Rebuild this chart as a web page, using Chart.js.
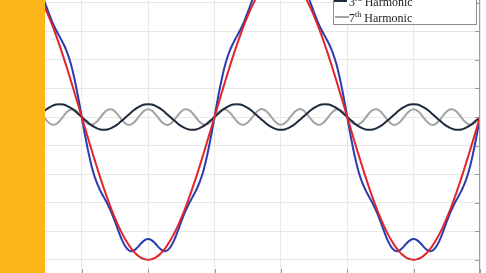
<!DOCTYPE html>
<html>
<head>
<meta charset="utf-8">
<script src="https://cdn.jsdelivr.net/npm/chart.js@4.4.1/dist/chart.umd.min.js"></script>
<style>
  html, body { margin: 0; padding: 0; background: #fff; overflow: hidden; }
  #wrap { position: relative; width: 486px; height: 273px; overflow: hidden; background: #fff; }
  #plot { position: absolute; left: -51px; top: -40px; }
  #band { position: absolute; left: 0; top: 0; width: 45px; height: 273px; background: #FDB618; }
  #legend { position: absolute; left: 333px; top: -12px; width: 144px; height: 37px; box-sizing: border-box;
            border: 1px solid #8c8c8c; background: #fff; }
  .swatch { position: absolute; }
  .lbl { position: absolute; font: 12px 'Liberation Serif', 'Times New Roman', serif; line-height: 12px; color: #222; white-space: nowrap; }
  .lbl sup { font-size: 8px; vertical-align: 0; position: relative; top: -5px; }
</style>
</head>
<body>
<div id="wrap">
  <canvas id="plot" width="537" height="314"></canvas>
  <div id="band"></div>
  <div id="legend"></div>
  <div class="swatch" style="left:334px; top:0px; width:13px; height:2px; background:#1d2b3d;"></div>
  <div class="lbl" style="left:349px; top:-4px;">3<sup>rd</sup> Harmonic</div>
  <div class="swatch" style="left:335px; top:16px; width:14px; height:2px; background:#a3a3a3;"></div>
  <div class="lbl" style="left:349px; top:12px;">7<sup>th</sup> Harmonic</div>
</div>
<script>
// angle in degrees, sampled every 5 deg over two cycles
const angles = [0,5,10,15,20,25,30,35,40,45,50,55,60,65,70,75,80,85,90,95,100,105,110,115,120,125,130,135,140,145,150,155,160,165,170,175,180,185,190,195,200,205,210,215,220,225,230,235,240,245,250,255,260,265,270,275,280,285,290,295,300,305,310,315,320,325,330,335,340,345,350,355,360,365,370,375,380,385,390,395,400,405,410,415,420,425,430,435,440,445,450,455,460,465,470,475,480,485,490,495,500,505,510,515,520,525,530,535,540,545,550,555,560,565,570,575,580,585,590,595,600,605,610,615,620,625,630,635,640,645,650,655,660,665,670,675,680,685,690,695,700,705,710,715,720];

const fundamental = [0,.087,.174,.259,.342,.423,.5,.574,.643,.707,.766,.819,.866,.906,.94,.966,.985,.996,1,.996,.985,.966,.94,.906,.866,.819,.766,.707,.643,.574,.5,.423,.342,.259,.174,.087,
  0,-.087,-.174,-.259,-.342,-.423,-.5,-.574,-.643,-.707,-.766,-.819,-.866,-.906,-.94,-.966,-.985,-.996,-1,-.996,-.985,-.966,-.94,-.906,-.866,-.819,-.766,-.707,-.643,-.574,-.5,-.423,-.342,-.259,-.174,-.087,
  0,.087,.174,.259,.342,.423,.5,.574,.643,.707,.766,.819,.866,.906,.94,.966,.985,.996,1,.996,.985,.966,.94,.906,.866,.819,.766,.707,.643,.574,.5,.423,.342,.259,.174,.087,
  0,-.087,-.174,-.259,-.342,-.423,-.5,-.574,-.643,-.707,-.766,-.819,-.866,-.906,-.94,-.966,-.985,-.996,-1,-.996,-.985,-.966,-.94,-.906,-.866,-.819,-.766,-.707,-.643,-.574,-.5,-.423,-.342,-.259,-.174,-.087,0];

const third = [0,.023,.045,.064,.078,.087,.09,.087,.078,.064,.045,.023,0,-.023,-.045,-.064,-.078,-.087,-.09,-.087,-.078,-.064,-.045,-.023,
  0,.023,.045,.064,.078,.087,.09,.087,.078,.064,.045,.023,0,-.023,-.045,-.064,-.078,-.087,-.09,-.087,-.078,-.064,-.045,-.023,
  0,.023,.045,.064,.078,.087,.09,.087,.078,.064,.045,.023,0,-.023,-.045,-.064,-.078,-.087,-.09,-.087,-.078,-.064,-.045,-.023,
  0,.023,.045,.064,.078,.087,.09,.087,.078,.064,.045,.023,0,-.023,-.045,-.064,-.078,-.087,-.09,-.087,-.078,-.064,-.045,-.023,
  0,.023,.045,.064,.078,.087,.09,.087,.078,.064,.045,.023,0,-.023,-.045,-.064,-.078,-.087,-.09,-.087,-.078,-.064,-.045,-.023,
  0,.023,.045,.064,.078,.087,.09,.087,.078,.064,.045,.023,0,-.023,-.045,-.064,-.078,-.087,-.09,-.087,-.078,-.064,-.045,-.023,0];

const seventh = [0,.032,.052,.053,.035,.005,-.028,-.05,-.054,-.039,-.01,.023,.048,.055,.042,.014,-.019,-.045,-.055,-.045,-.019,.014,.042,.055,.048,.023,-.01,-.039,-.054,-.05,-.028,.005,.035,.053,.052,.032,
  0,-.032,-.052,-.053,-.035,-.005,.028,.05,.054,.039,.01,-.023,-.048,-.055,-.042,-.014,.019,.045,.055,.045,.019,-.014,-.042,-.055,-.048,-.023,.01,.039,.054,.05,.028,-.005,-.035,-.053,-.052,-.032,
  0,.032,.052,.053,.035,.005,-.028,-.05,-.054,-.039,-.01,.023,.048,.055,.042,.014,-.019,-.045,-.055,-.045,-.019,.014,.042,.055,.048,.023,-.01,-.039,-.054,-.05,-.028,.005,.035,.053,.052,.032,
  0,-.032,-.052,-.053,-.035,-.005,.028,.05,.054,.039,.01,-.023,-.048,-.055,-.042,-.014,.019,.045,.055,.045,.019,-.014,-.042,-.055,-.048,-.023,.01,.039,.054,.05,.028,-.005,-.035,-.053,-.052,-.032,0];

const resultant = [0,.142,.27,.376,.455,.514,.563,.611,.667,.732,.802,.866,.914,.938,.937,.917,.888,.864,.855,.864,.888,.917,.937,.938,.914,.866,.802,.732,.667,.611,.563,.514,.455,.376,.27,.142,
  0,-.142,-.27,-.376,-.455,-.514,-.563,-.611,-.667,-.732,-.802,-.866,-.914,-.938,-.937,-.917,-.888,-.864,-.855,-.864,-.888,-.917,-.937,-.938,-.914,-.866,-.802,-.732,-.667,-.611,-.563,-.514,-.455,-.376,-.27,-.142,
  0,.142,.27,.376,.455,.514,.563,.611,.667,.732,.802,.866,.914,.938,.937,.917,.888,.864,.855,.864,.888,.917,.937,.938,.914,.866,.802,.732,.667,.611,.563,.514,.455,.376,.27,.142,
  0,-.142,-.27,-.376,-.455,-.514,-.563,-.611,-.667,-.732,-.802,-.866,-.914,-.938,-.937,-.917,-.888,-.864,-.855,-.864,-.888,-.917,-.937,-.938,-.914,-.866,-.802,-.732,-.667,-.611,-.563,-.514,-.455,-.376,-.27,-.142,0];

// axis ticks (grid lines)
const xTickValues = [0, 90, 180, 270, 360, 450, 540, 630, 720];
const yTickValues = [-1, -0.8, -0.6, -0.4, -0.2, 0, 0.2, 0.4, 0.6, 0.8, 1];
const yRange = [-1.1, 1.1];

function toPoints(vals) {
    return vals.map((v, i) => ({ x: angles[i], y: v }));
}

// MATLAB style box with inward tick marks
const boxTicks = {
    id: 'boxTicks',
    afterDraw(chart) {
        const { ctx, chartArea: a, scales: { x, y } } = chart;
        ctx.save();
        ctx.strokeStyle = '#9a9a9a';
        ctx.lineWidth = 1;
        ctx.strokeRect(a.left + 0.5, a.top + 0.5, a.width - 1, a.height - 1);
        ctx.beginPath();
        x.ticks.forEach(t => {
            const px = Math.round(x.getPixelForValue(t.value)) + 0.5;
            ctx.moveTo(px, a.bottom); ctx.lineTo(px, a.bottom - 5);
            ctx.moveTo(px, a.top); ctx.lineTo(px, a.top + 5);
        });
        y.ticks.forEach(t => {
            const py = Math.round(y.getPixelForValue(t.value)) + 0.5;
            ctx.moveTo(a.left, py); ctx.lineTo(a.left + 5, py);
            ctx.moveTo(a.right, py); ctx.lineTo(a.right - 5, py);
        });
        ctx.stroke();
        ctx.restore();
    }
};

const lineStyle = { pointRadius: 0, borderWidth: 2, tension: 0.4, fill: false };

new Chart(document.getElementById('plot'), {
    type: 'line',
    data: {
        datasets: [
            { label: 'Fundamental', data: toPoints(fundamental), borderColor: '#e0252b', ...lineStyle },
            { label: 'Resultant', data: toPoints(resultant), borderColor: '#2b3cae', ...lineStyle },
            { label: '3rd Harmonic', data: toPoints(third), borderColor: '#1d2b3d', ...lineStyle },
            { label: '7th Harmonic', data: toPoints(seventh), borderColor: '#a3a3a3', ...lineStyle }
        ]
    },
    options: {
        responsive: false,
        animation: false,
        layout: { padding: { left: 0, right: 6, top: 0, bottom: 0 } },
        plugins: { legend: { display: false }, tooltip: { enabled: false } },
        scales: {
            x: {
                type: 'linear', min: xTickValues[0], max: xTickValues[xTickValues.length - 1],
                ticks: { display: false },
                afterBuildTicks: s => { s.ticks = xTickValues.map(v => ({ value: v })); },
                grid: { color: '#e8e8e8', drawTicks: false },
                border: { display: false },
                afterFit: s => { s.height = 0; }
            },
            y: {
                min: yRange[0], max: yRange[1],
                ticks: { display: false },
                afterBuildTicks: s => { s.ticks = yTickValues.map(v => ({ value: v })); },
                grid: { color: '#e8e8e8', drawTicks: false },
                border: { display: false },
                afterFit: s => { s.width = 0; }
            }
        }
    },
    plugins: [boxTicks]
});
</script>
</body>
</html>
